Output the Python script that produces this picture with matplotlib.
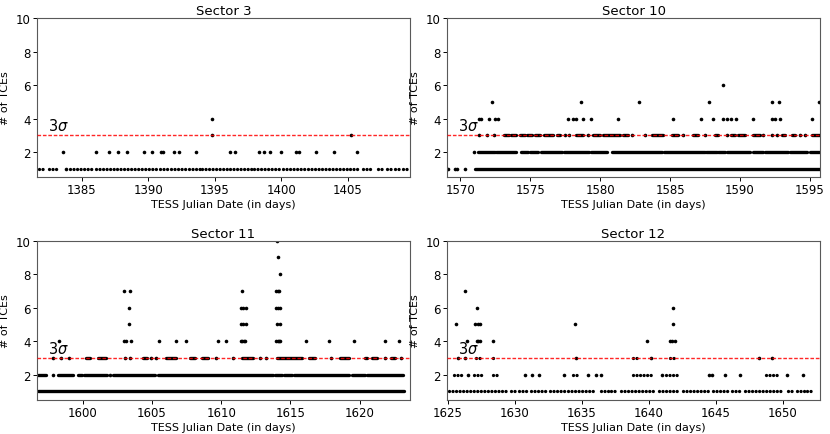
import numpy as np
import matplotlib.pyplot as plt
from matplotlib.transforms import blended_transform_factory

# Number of TCEs per cadence.
# runs = (count, start, end) stretches where the points merge into a line
# dots = (count, date) single points

titles = ['Sector 3', 'Sector 10', 'Sector 11', 'Sector 12']
xlims = [(1381.62, 1409.69), (1569.05, 1595.72), (1596.69, 1623.65), (1624.95, 1652.79)]

s3_runs = [(1, 1381.79, 1382.24), (1, 1382.49, 1383.12), (1, 1384.12, 1385.75),
           (1, 1386.08, 1387.5), (1, 1387.63, 1390.64), (1, 1390.84, 1391.52),
           (1, 1391.69, 1392.89), (1, 1393.02, 1393.9), (1, 1394.07, 1395.9),
           (1, 1396.15, 1397.78), (1, 1397.91, 1399.91), (1, 1400.16, 1401.79),
           (1, 1402.04, 1402.92), (1, 1403.05, 1405.05), (1, 1405.18, 1405.8),
           (1, 1406.18, 1406.43), (1, 1406.68, 1406.93), (1, 1407.31, 1407.68),
           (1, 1407.93, 1408.31), (1, 1408.56, 1408.93), (1, 1409.19, 1409.62)]
s3_dots = [(1, 1383.8),
           (2, 1383.57), (2, 1386.08), (2, 1387.06), (2, 1387.68), (2, 1388.36),
           (2, 1389.64), (2, 1390.26), (2, 1390.97), (2, 1391.09), (2, 1391.89),
           (2, 1392.27), (2, 1393.57), (2, 1396.15), (2, 1396.53), (2, 1398.33),
           (2, 1398.73), (2, 1399.16), (2, 1399.96), (2, 1401.09), (2, 1401.34),
           (2, 1402.64), (2, 1403.95), (2, 1405.70),
           (3, 1394.82), (3, 1405.25), (4, 1394.82)]

s10_runs = [(1, 1571.03, 1595.72),
            (2, 1571.26, 1572.46), (2, 1572.58, 1574.0), (2, 1574.37, 1574.84),
            (2, 1574.96, 1575.55), (2, 1575.8, 1577.3), (2, 1577.45, 1579.2),
            (2, 1579.35, 1580.5), (2, 1580.85, 1584.4), (2, 1584.55, 1587.49),
            (2, 1587.6, 1588.32), (2, 1588.44, 1588.92), (2, 1589.04, 1590.71),
            (2, 1590.95, 1591.66), (2, 1591.78, 1593.45), (2, 1593.57, 1594.76),
            (2, 1595.0, 1595.72),
            (3, 1573.15, 1573.45), (3, 1573.6, 1574.0), (3, 1574.25, 1574.6),
            (3, 1574.8, 1575.1), (3, 1575.35, 1575.7), (3, 1575.95, 1576.65),
            (3, 1576.9, 1577.15), (3, 1578.3, 1578.8), (3, 1579.5, 1580.0),
            (3, 1580.2, 1581.4), (3, 1581.65, 1582.0), (3, 1583.74, 1584.5),
            (3, 1585.17, 1585.58), (3, 1586.65, 1587.01), (3, 1588.2, 1588.44),
            (3, 1589.39, 1589.63), (3, 1589.87, 1590.35), (3, 1590.95, 1591.42),
            (3, 1592.98, 1593.22), (3, 1593.69, 1593.93), (3, 1595.12, 1595.72)]
s10_dots = [(1, 1569.12), (1, 1569.64), (1, 1569.78), (1, 1570.36), (2, 1570.98),
            (3, 1571.34), (3, 1571.93), (3, 1572.4), (3, 1577.47), (3, 1577.75),
            (3, 1579.14), (3, 1582.31), (3, 1583.19), (3, 1585.94), (3, 1587.49),
            (3, 1589.04), (3, 1591.66), (3, 1592.26), (3, 1592.62), (3, 1594.29),
            (3, 1594.65),
            (4, 1571.35), (4, 1571.5), (4, 1572.05), (4, 1572.45), (4, 1572.7),
            (4, 1577.7), (4, 1578.05), (4, 1578.3), (4, 1578.78), (4, 1579.38),
            (4, 1581.28), (4, 1585.22), (4, 1587.18), (4, 1588.1), (4, 1588.75),
            (4, 1589.04), (4, 1589.39), (4, 1589.7), (4, 1590.95), (4, 1592.26),
            (4, 1592.5), (4, 1592.86), (4, 1595.12),
            (5, 1572.29), (5, 1578.6), (5, 1582.78), (5, 1587.77), (5, 1592.3),
            (5, 1592.8), (5, 1595.67), (6, 1588.8)]

s11_runs = [(1, 1596.75, 1623.2),
            (2, 1596.73, 1597.34), (2, 1598.19, 1599.27), (2, 1599.64, 1599.95),
            (2, 1600.12, 1601.74), (2, 1602.18, 1605.2), (2, 1605.44, 1613.78),
            (2, 1613.91, 1614.39), (2, 1614.56, 1615.11), (2, 1615.28, 1619.23),
            (2, 1619.47, 1620.36), (2, 1620.56, 1623.17),
            (3, 1600.24, 1600.53), (3, 1601.09, 1601.69), (3, 1604.35, 1604.64),
            (3, 1606.0, 1606.77), (3, 1607.74, 1608.1), (3, 1608.59, 1609.07),
            (3, 1611.49, 1612.33), (3, 1614.03, 1615.84), (3, 1616.32, 1616.81),
            (3, 1618.62, 1619.23), (3, 1620.36, 1620.56), (3, 1620.92, 1621.28),
            (3, 1622.3, 1622.54)]
s11_dots = [(2, 1597.82), (2, 1601.93),
            (3, 1597.82), (3, 1598.43), (3, 1598.98), (3, 1603.02), (3, 1603.39),
            (3, 1604.96), (3, 1605.27), (3, 1609.6), (3, 1610.88), (3, 1612.77),
            (3, 1613.25), (3, 1617.9), (3, 1621.84), (3, 1622.97),
            (4, 1598.25), (4, 1602.97), (4, 1603.15), (4, 1603.46), (4, 1605.5),
            (4, 1606.71), (4, 1607.45), (4, 1609.75), (4, 1610.34), (4, 1611.4),
            (4, 1611.52), (4, 1611.63), (4, 1611.74), (4, 1613.98), (4, 1614.08),
            (4, 1614.18), (4, 1614.27), (4, 1616.13), (4, 1617.78), (4, 1619.59),
            (4, 1621.84), (4, 1622.84),
            (5, 1603.31), (5, 1611.42), (5, 1611.6), (5, 1611.8), (5, 1614.03),
            (5, 1614.22),
            (6, 1603.34), (6, 1611.42), (6, 1611.61), (6, 1611.8), (6, 1613.95),
            (6, 1614.13), (6, 1614.22),
            (7, 1602.97), (7, 1603.39), (7, 1611.54), (7, 1613.95), (7, 1614.07),
            (7, 1614.18),
            (8, 1614.25), (9, 1614.12), (10, 1614.0)]

s12_runs = [(1, 1625.1, 1629.36), (1, 1629.74, 1629.99), (1, 1630.36, 1630.98),
            (1, 1631.23, 1632.35), (1, 1632.6, 1633.85), (1, 1633.97, 1636.09),
            (1, 1636.47, 1637.09), (1, 1637.21, 1637.71), (1, 1637.96, 1640.58),
            (1, 1640.78, 1642.32), (1, 1642.57, 1644.44), (1, 1644.81, 1645.94),
            (1, 1646.19, 1646.81), (1, 1647.18, 1650.05), (1, 1650.42, 1650.8),
            (1, 1651.05, 1651.67), (1, 1651.8, 1652.2),
            (2, 1625.45, 1626.07), (2, 1626.99, 1627.57), (2, 1628.36, 1628.91),
            (2, 1634.35, 1634.72), (2, 1638.83, 1640.2), (2, 1641.33, 1642.2),
            (2, 1648.75, 1649.55),
            (3, 1627.12, 1627.45), (3, 1628.36, 1628.56), (3, 1638.83, 1639.2),
            (3, 1641.6, 1641.95)]
s12_dots = [(2, 1626.5), (2, 1630.78), (2, 1631.28), (2, 1631.8), (2, 1633.67),
            (2, 1635.47), (2, 1636.09), (2, 1636.47), (2, 1641.03), (2, 1644.5),
            (2, 1644.7), (2, 1645.69), (2, 1646.81), (2, 1650.3), (2, 1651.54),
            (3, 1625.75), (3, 1626.32), (3, 1634.55), (3, 1640.15), (3, 1648.25),
            (3, 1649.18),
            (4, 1626.45), (4, 1627.17), (4, 1627.3), (4, 1627.42), (4, 1628.41),
            (4, 1639.9), (4, 1641.6), (4, 1641.75), (4, 1641.95),
            (5, 1625.62), (5, 1627.07), (5, 1627.24), (5, 1627.42), (5, 1634.5),
            (5, 1641.8),
            (6, 1627.17), (6, 1641.8), (7, 1626.32)]

all_runs = [s3_runs, s10_runs, s11_runs, s12_runs]
all_dots = [s3_dots, s10_dots, s11_dots, s12_dots]
dotted = [True, False, False, True]

fig, axes = plt.subplots(2, 2, figsize=(8.3, 4.35), dpi=100)
fig.subplots_adjust(left=0.0446, right=0.988, top=0.956, bottom=0.079,
                    wspace=0.099, hspace=0.40)

for ax, title, xl, runs, dots, dot_style in zip(axes.flat, titles, xlims,
                                                all_runs, all_dots, dotted):
    n_r, x0, x1 = zip(*runs)
    ls = (0, (0.01, 1.05)) if dot_style else 'solid'
    ax.hlines(n_r, x0, x1, colors='k', linewidth=2.4, linestyles=ls,
              capstyle='round', zorder=2)
    n_d, xd = zip(*dots)
    ax.plot(xd, n_d, 'o', color='k', ms=2.6, mew=0, zorder=2)

    ax.axhline(3, color='red', ls='--', lw=1, dashes=(2.6, 1.3), alpha=0.85, zorder=3)
    trans = blended_transform_factory(ax.transAxes, ax.transData)
    ax.text(0.029, 3.3, r'$3\sigma$', transform=trans, fontsize=10.5, va='baseline')

    ax.set_xlim(xl)
    ax.set_ylim(0.5, 10)
    ax.set_yticks([2, 4, 6, 8, 10])
    ax.set_title(title, fontsize=9.5, pad=3)
    ax.set_xlabel('TESS Julian Date (in days)', fontsize=8, labelpad=2)
    ax.set_ylabel('# of TCEs', fontsize=8, labelpad=4)
    ax.tick_params(labelsize=8.5, length=3, pad=1.5, width=0.7)
    for sp in ax.spines.values():
        sp.set_color('0.35')
        sp.set_linewidth(0.8)

plt.savefig('out.png', dpi=100)
